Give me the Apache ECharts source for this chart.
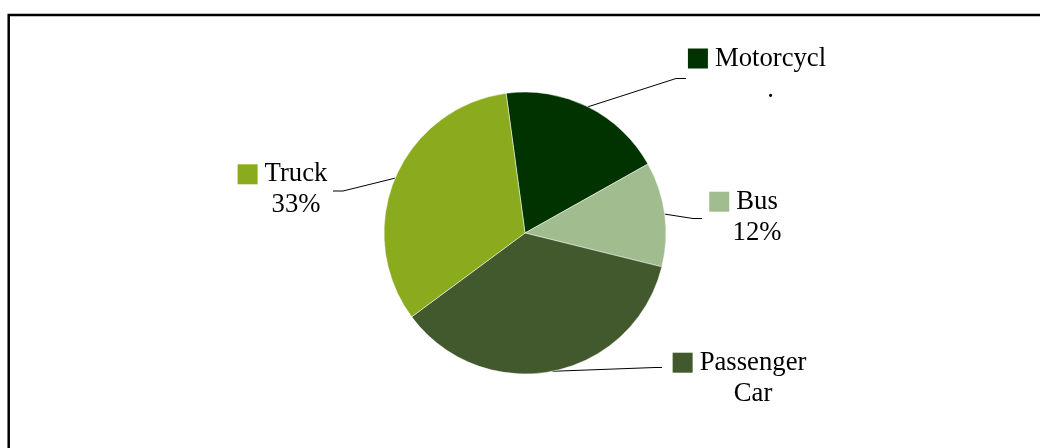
<!DOCTYPE html>
<html>
<head>
<meta charset="utf-8">
<title>Vehicle mix</title>
<script src="https://cdn.jsdelivr.net/npm/echarts@6/dist/echarts.min.js"></script>
<style>
  html, body { margin: 0; padding: 0; background: #fff; }
  #chart { width: 1040px; height: 448px; }
</style>
</head>
<body>
<div id="chart"></div>
<script>
// Vehicle categories and their share of the total (percent)
const categories = ['Motorcycle', 'Bus', 'Passenger Car', 'Truck'];
const shares = [19, 12, 36, 33];

// Text shown in each data label; null on the second row means "show the percentage"
const labelFirstRow = ['Motorcycl', 'Bus', 'Passenger', 'Truck'];
const labelSecondRow = ['.', null, 'Car', null];

// Slice fills
const sliceColors = ['#003300', '#A1BD8F', '#42592D', '#8AAB1E'];

// Pie geometry
const PIE_CENTER = [525, 233];
const PIE_RADIUS = 141;
const START_ANGLE = 97.7;

// Where each label block sits (x = block centre, y = block top) and where its leader line ends
const labelPlacement = {
  'Motorcycle':    { x: 757,   y: 43,    elbow: [676, 78.5],  end: [686, 78.5] },
  'Bus':           { x: 743.5, y: 186.2, elbow: [693, 218.5], end: [702, 218.5] },
  'Passenger Car': { x: 739.5, y: 347.2, elbow: [655, 367.5], end: [662, 367.5] },
  'Truck':         { x: 282.5, y: 158.8, elbow: [343, 191],   end: [333, 191] }
};

const FONT = '"Liberation Serif", "Times New Roman", serif';
const FONT_SIZE = 26.7;
const LINE_H = 31;

const total = shares.reduce((a, b) => a + b, 0);

// Point on the outer rim at the middle of a slice
function rimPoint(i) {
  let before = 0;
  for (let k = 0; k < i; k++) before += shares[k];
  const midDeg = START_ANGLE - (before + shares[i] / 2) / total * 360;
  const rad = midDeg * Math.PI / 180;
  return [PIE_CENTER[0] + PIE_RADIUS * Math.cos(rad), PIE_CENTER[1] - PIE_RADIUS * Math.sin(rad)];
}

const rich = {
  g: { width: 7, lineHeight: LINE_H },
  pad: { width: 27, lineHeight: LINE_H },
  t: { fontFamily: FONT, fontSize: FONT_SIZE, color: '#000', lineHeight: LINE_H }
};
sliceColors.forEach((c, i) => {
  rich['sq' + i] = { width: 20, height: 20, lineHeight: LINE_H, backgroundColor: c };
});

const chart = echarts.init(document.getElementById('chart'), null, { renderer: 'canvas' });

chart.setOption({
  backgroundColor: '#fff',
  animation: false,
  graphic: [{
    type: 'rect',
    silent: true,
    shape: { x: 8.7, y: 15, width: 1200, height: 600 },
    style: { fill: 'none', stroke: '#000', lineWidth: 2.5 }
  }],
  series: [{
    type: 'pie',
    center: PIE_CENTER,
    radius: PIE_RADIUS,
    startAngle: START_ANGLE,
    clockwise: true,
    avoidLabelOverlap: false,
    silent: true,
    itemStyle: { borderColor: '#fff', borderWidth: 0.5 },
    label: {
      show: true,
      position: 'outside',
      rich: rich,
      formatter: function (p) {
        const i = p.dataIndex;
        const second = labelSecondRow[i] !== null ? labelSecondRow[i] : Math.round(p.percent) + '%';
        return '{sq' + i + '|}{g|}{t|' + labelFirstRow[i] + '}\n{pad|}{t|' + second + '}';
      }
    },
    labelLine: {
      show: true,
      length: 10,
      length2: 10,
      lineStyle: { color: '#000', width: 1 }
    },
    labelLayout: function (params) {
      const i = params.dataIndex;
      const place = labelPlacement[categories[i]];
      const start = rimPoint(i);
      return {
        x: place.x,
        y: place.y,
        align: 'center',
        verticalAlign: 'top',
        labelLinePoints: [start, place.elbow, place.end]
      };
    },
    data: categories.map((name, i) => ({
      name: name,
      value: shares[i],
      itemStyle: { color: sliceColors[i] }
    }))
  }]
});
</script>
</body>
</html>
